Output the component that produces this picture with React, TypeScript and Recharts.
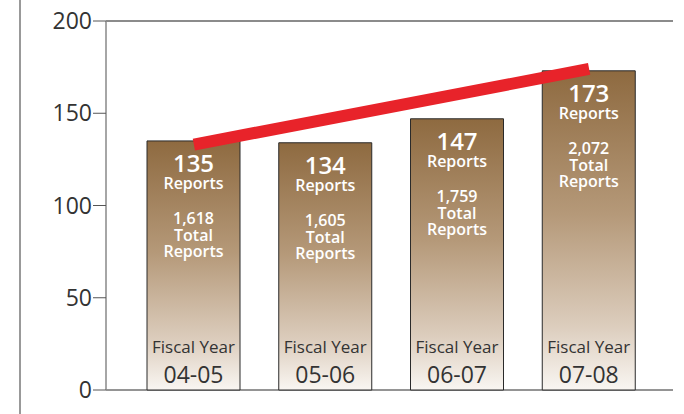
import { Bar, XAxis, YAxis, CartesianGrid, Line, LabelList, ReferenceLine, ComposedChart } from "recharts"

const years = ["04-05", "05-06", "06-07", "07-08"]
const reports = [135, 134, 147, 173]
const totalReports = [1618, 1605, 1759, 2072]
// trend line endpoints only (first and last fiscal year)
const trend = [133, null, null, 174]
const yTicks = [0, 50, 100, 150, 200]

const data = years.map((year, i) => ({
  year,
  reports: reports[i],
  total: totalReports[i],
  trend: trend[i],
}))

const FONT = "'Open Sans', sans-serif"

function BarText(props: any) {
  const vb = props.viewBox || props
  const { x, y, width, height } = vb
  const i = props.index
  const cx = x + width / 2
  const bottom = y + height
  return (
    <g fontFamily={FONT} textAnchor="middle">
      <text fill="#fff" fontWeight={600} fontSize={16}>
        <tspan x={cx} y={y + 31} fontSize={24}>{reports[i]}</tspan>
        <tspan x={cx} y={y + 48}>Reports</tspan>
        <tspan x={cx} y={y + 83}>{totalReports[i].toLocaleString("en-US")}</tspan>
        <tspan x={cx} y={y + 100}>Total</tspan>
        <tspan x={cx} y={y + 116}>Reports</tspan>
      </text>
      <text fill="#333" fontSize={17}>
        <tspan x={cx} y={bottom - 37}>Fiscal Year</tspan>
        <tspan x={cx} y={bottom - 7} fontSize={23}>{years[i]}</tspan>
      </text>
    </g>
  )
}

export default function App() {
  return (
    <div style={{ position: "absolute", left: 0, top: 0, width: 684, height: 414, background: "#fff" }}>
      <div
        style={{ position: "absolute", left: 19, top: 0, width: 0, height: 414, borderLeft: "2px solid #999" }}
      />
      <ComposedChart
        width={684}
        height={414}
        data={data}
        margin={{ top: 21, right: 11, bottom: 24, left: 0 }}
      >
        <defs>
          <linearGradient id="barFill" x1="0" y1="0" x2="0" y2="1">
            <stop offset="0%" stopColor="#8E6A40" />
            <stop offset="45%" stopColor="#B59979" />
            <stop offset="80%" stopColor="#DCCDBD" />
            <stop offset="100%" stopColor="#F9F6F2" />
          </linearGradient>
        </defs>
        <CartesianGrid vertical={false} stroke="#2a2a2a" strokeWidth={1} />
        <XAxis
          dataKey="year"
          height={0}
          tick={false}
          tickLine={false}
          axisLine={{ stroke: "#888", strokeWidth: 1.5 }}
          padding={{ left: 22, right: 18 }}
        />
        <YAxis
          yAxisId="left"
          width={106}
          domain={[0, 200]}
          ticks={yTicks}
          tickSize={13}
          tickMargin={1}
          axisLine={{ stroke: "#888", strokeWidth: 1.5 }}
          tickLine={{ stroke: "#555" }}
          tick={{ fontSize: 23, fill: "#333", fontFamily: FONT }}
        />
        <YAxis
          yAxisId="right"
          orientation="right"
          width={0}
          domain={[0, 200]}
          tick={false}
          tickLine={false}
          axisLine={{ stroke: "#888", strokeWidth: 1.5 }}
        />
        <ReferenceLine yAxisId="left" y={200} stroke="#888" strokeWidth={1.5} />
        <Bar
          yAxisId="left"
          dataKey="reports"
          barSize={93}
          fill="url(#barFill)"
          stroke="#2a2a2a"
          strokeWidth={1}
          isAnimationActive={false}
        >
          <LabelList dataKey="reports" content={BarText} />
        </Bar>
        <Line
          yAxisId="left"
          dataKey="trend"
          connectNulls
          stroke="#E8232A"
          strokeWidth={12}
          strokeLinecap="butt"
          dot={false}
          activeDot={false}
          isAnimationActive={false}
        />
      </ComposedChart>
    </div>
  )
}
